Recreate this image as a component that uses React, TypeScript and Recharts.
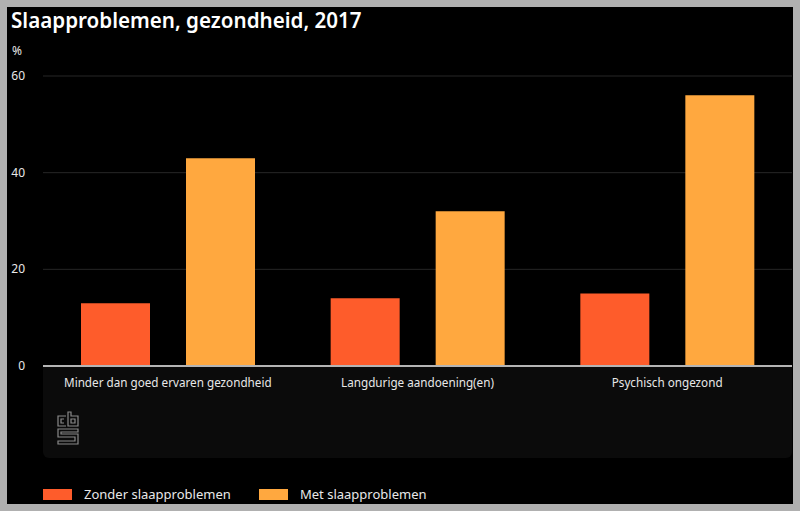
import React from "react";
import { BarChart, Bar, XAxis, YAxis, CartesianGrid } from "recharts";

const categories = [
  "Minder dan goed ervaren gezondheid",
  "Langdurige aandoening(en)",
  "Psychisch ongezond",
];
const zonderValues = [13, 14, 15];
const metValues = [43, 32, 56];
const yTicks = [0, 20, 40, 60];
const seriesNames = ["Zonder slaapproblemen", "Met slaapproblemen"];
const seriesColors = ["#fe5c2b", "#ffa83f"];

const data = categories.map((c, i) => ({
  name: c,
  zonder: zonderValues[i],
  met: metValues[i],
}));

const FONT = "'Noto Sans', 'Open Sans', sans-serif";

const YTick = (props: any) => {
  const { y, payload } = props;
  return (
    <text x={25} y={y + 4} textAnchor="end" fill="#e8e8e8" fontSize={12} fontFamily={FONT}>
      {payload.value}
    </text>
  );
};

const XTick = (props: any) => {
  const { x, payload } = props;
  return (
    <text x={x} y={387} textAnchor="middle" fill="#e8e8e8" fontSize={11.7} fontFamily={FONT}>
      {payload.value}
    </text>
  );
};

const LegendBlock = () => (
  <div style={{ position: "absolute", left: 0, top: 484, width: 800, height: 20 }}>
    {seriesNames.map((n, i) => (
      <div key={n} style={{ position: "absolute", left: i === 0 ? 43 : 259, top: 0, height: 20, display: "flex", alignItems: "center" }}>
        <div style={{ width: 29, height: 11, background: seriesColors[i] }} />
        <span style={{ marginLeft: 12, color: "#e8e8e8", fontSize: 13, fontFamily: FONT, whiteSpace: "nowrap" }}>{n}</span>
      </div>
    ))}
  </div>
);

const Logo = () => (
  <svg width={24} height={36} style={{ position: "absolute", left: 56, top: 410 }} viewBox="0 0 24 36">
    <g fill="none" stroke="#8a8a8a" strokeWidth={1.2}>
      <path d="M10 6 H2 V16 H10" />
      <path d="M8 9 H5 V13 H8" />
      <path d="M12 2 V16 H22 V6 H15 V2 Z" />
      <path d="M15 9 H19 V13 H15 Z" />
      <path d="M22 19 H2 V27 H19 V31 H2 V34 H22 V24 H5 V22 H22 Z" />
    </g>
  </svg>
);

export default function App() {
  return (
    <div style={{ position: "absolute", left: 0, top: 0, width: 800, height: 511, background: "#b0b0b0", overflow: "hidden" }}>
      <div style={{ position: "absolute", left: 7, top: 7, width: 786, height: 497, background: "#000" }} />
      <div
        style={{
          position: "absolute",
          left: 43,
          top: 367,
          width: 749,
          height: 91,
          background: "#0b0b0b",
          borderBottomLeftRadius: 6,
          borderBottomRightRadius: 6,
        }}
      />
      <div style={{ position: "absolute", left: 11, top: 6, color: "#fff", fontSize: 20.6, fontWeight: 600, fontFamily: FONT, whiteSpace: "nowrap" }}>
        Slaapproblemen, gezondheid, 2017
      </div>
      <div style={{ position: "absolute", left: 12, top: 42, color: "#e8e8e8", fontSize: 12, fontFamily: FONT }}>%</div>
      <Logo />
      <div style={{ position: "absolute", left: 0, top: 0 }}>
        <BarChart
          width={800}
          height={511}
          data={data}
          margin={{ top: 76, right: 8, bottom: 0, left: 0 }}
          barGap={36}
          barSize={69}
        >
          <CartesianGrid vertical={false} stroke="#262626" strokeWidth={1} />
          <YAxis
            width={43}
            domain={[0, 60]}
            ticks={yTicks}
            axisLine={false}
            tickLine={false}
            tick={<YTick />}
            interval={0}
          />
          <XAxis
            dataKey="name"
            height={145}
            axisLine={{ stroke: "#b4b4b4", strokeWidth: 2 }}
            tickLine={false}
            tick={<XTick />}
            interval={0}
          />
          <Bar dataKey="zonder" name={seriesNames[0]} fill={seriesColors[0]} isAnimationActive={false} />
          <Bar dataKey="met" name={seriesNames[1]} fill={seriesColors[1]} isAnimationActive={false} />
        </BarChart>
      </div>
      <LegendBlock />
    </div>
  );
}
